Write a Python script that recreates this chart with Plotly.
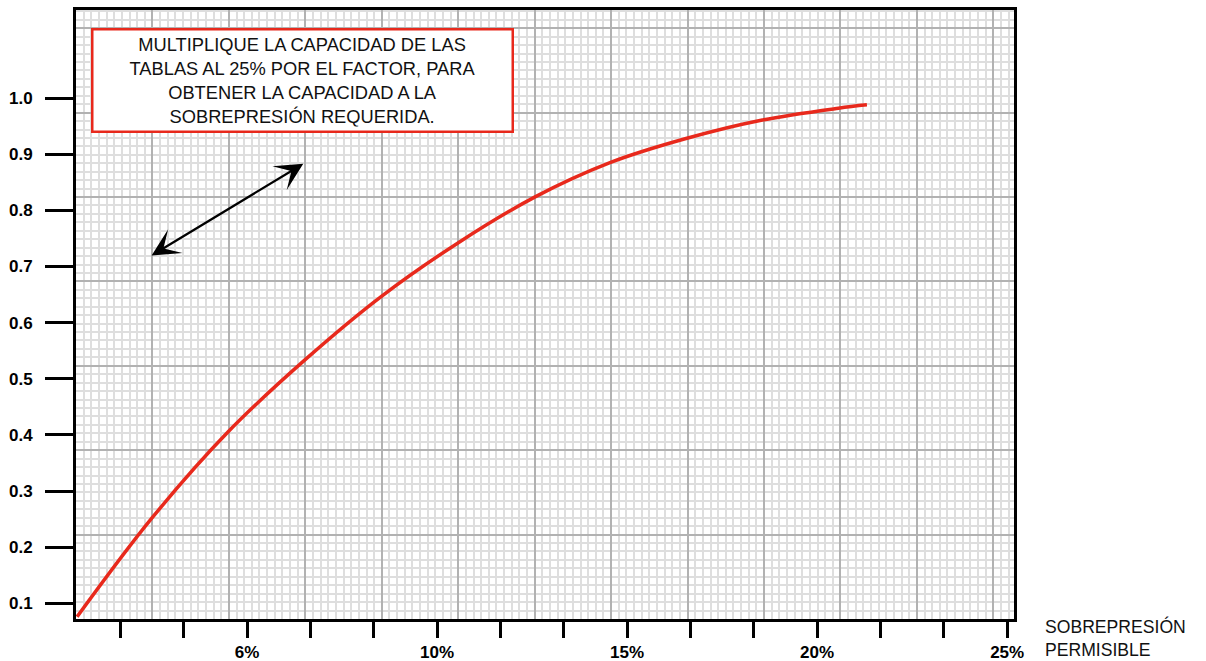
import plotly.graph_objects as go

# ---- data ----
overpressure_pct = [0.53, 2.50, 4.51, 6.53, 8.52, 10.55, 12.58, 14.55,
                    16.55, 18.56, 20.56, 21.31]
factor = [0.076, 0.252, 0.406, 0.534, 0.646, 0.742, 0.824, 0.885,
          0.928, 0.961, 0.982, 0.988]

x_tick_vals = [5 / 3 * k for k in range(1, 16)]
x_tick_text = ["", "", "6%", "", "", "10%", "", "", "15%", "", "", "20%", "", "", "25%"]
y_tick_vals = [0.1, 0.2, 0.3, 0.4, 0.5, 0.6, 0.7, 0.8, 0.9, 1.0]

note_text = ("MULTIPLIQUE LA CAPACIDAD DE LAS<br>TABLAS AL 25% POR EL FACTOR, PARA"
             "<br>OBTENER LA CAPACIDAD A LA<br>SOBREPRESIÓN REQUERIDA.")
axis_title = "SOBREPRESIÓN<br>PERMISIBLE"

FONT = "Liberation Sans, Arial, Helvetica, sans-serif"
RED = "#e8291c"

fig = go.Figure()

# invisible trace carrying the graph-paper grid axes
fig.add_trace(go.Scatter(x=[0], y=[0], xaxis="x2", yaxis="y2", mode="markers",
                         marker=dict(opacity=0), hoverinfo="skip", showlegend=False))

fig.add_trace(go.Scatter(x=overpressure_pct, y=factor, mode="lines",
                         line=dict(color=RED, width=3.5, shape="spline", smoothing=1.0),
                         showlegend=False, hoverinfo="x+y"))

grid_major = "#b2b2b2"
grid_minor = "#dedede"

fig.update_layout(
    width=1206, height=661, autosize=False,
    margin=dict(l=76, r=192, t=10, b=42, autoexpand=False),
    paper_bgcolor="white", plot_bgcolor="white",
    font=dict(family=FONT, color="black"),
    xaxis=dict(range=[0.5, 25.18], tickvals=x_tick_vals, ticktext=x_tick_text,
               ticks="outside", ticklen=16, tickwidth=3, tickcolor="black",
               showline=True, linewidth=3, linecolor="black", mirror=True,
               showgrid=False, zeroline=False, ticklabelstandoff=0, automargin=False,
               tickfont=dict(size=17, family=FONT, weight="bold")),
    yaxis=dict(range=[0.072, 1.157], tickvals=y_tick_vals, tickformat=".1f",
               ticks="outside", ticklen=28, tickwidth=3, tickcolor="black",
               showline=True, linewidth=3, linecolor="black", mirror=True,
               showgrid=False, zeroline=False, ticklabelstandoff=9, automargin=False,
               tickfont=dict(size=17, family=FONT, weight="bold")),
    xaxis2=dict(overlaying="x", range=[0, 12.27], dtick=1, showgrid=True,
                gridcolor=grid_major, gridwidth=1.7, showticklabels=False, ticks="",
                showline=False, zeroline=False, automargin=False,
                minor=dict(dtick=0.1, showgrid=True, gridcolor=grid_minor, gridwidth=1.6)),
    yaxis2=dict(overlaying="y", range=[0, 7.216], dtick=1, showgrid=True,
                gridcolor=grid_major, gridwidth=1.7, showticklabels=False, ticks="",
                showline=False, zeroline=False, automargin=False,
                minor=dict(dtick=0.1, showgrid=True, gridcolor=grid_minor, gridwidth=1.6)),
)

# note box
fig.add_annotation(x=6.46, y=1.032, xref="x", yref="y", text=note_text,
                   showarrow=False, xanchor="center", yanchor="middle",
                   font=dict(size=18.3, family=FONT, color="#111111"),
                   bgcolor="white", bordercolor=RED, borderwidth=2.5,
                   borderpad=4, width=410, height=92, align="center")

# double-headed arrow
fig.add_annotation(x=6.48, y=0.883, ax=2.45, ay=0.718, xref="x", yref="y",
                   axref="x", ayref="y", text="", showarrow=True,
                   arrowhead=3, startarrowhead=3, arrowside="end+start",
                   arrowsize=2.1, startarrowsize=2.1, arrowwidth=2.2,
                   arrowcolor="black", standoff=0, startstandoff=0)

# axis title
fig.add_annotation(x=1.031, y=-0.031, xref="paper", yref="paper", text=axis_title,
                   showarrow=False, xanchor="left", yanchor="middle", align="left",
                   font=dict(size=17.6, family=FONT, color="#111111"))

fig.write_html("out.html",
               config={"displayModeBar": False, "responsive": False},
               post_script="document.body.style.margin='0';document.body.style.overflow='hidden';")
